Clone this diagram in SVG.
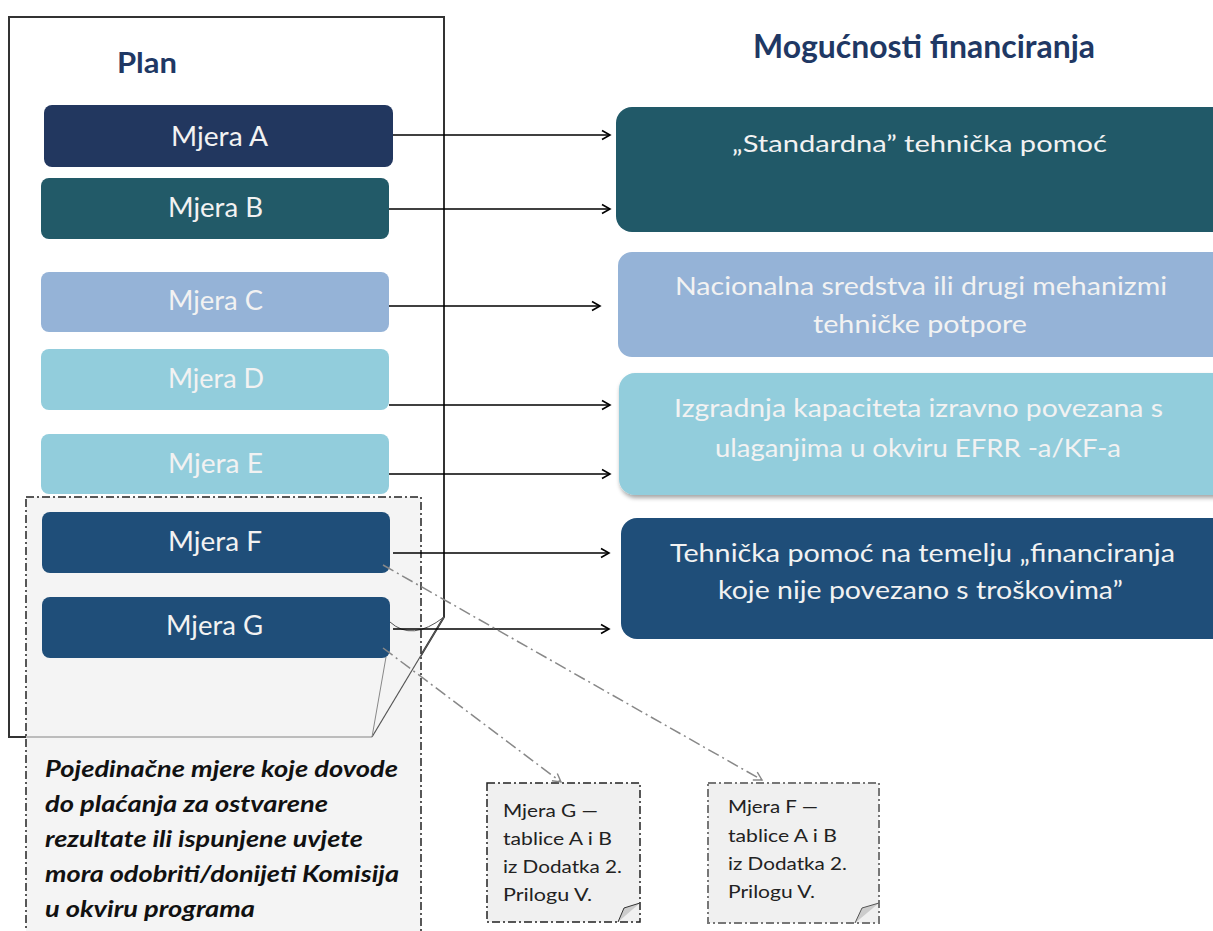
<svg xmlns="http://www.w3.org/2000/svg" width="1213" height="931" viewBox="0 0 1213 931">
<defs>
<marker id="arr" markerWidth="12" markerHeight="12" refX="10" refY="6" orient="auto" markerUnits="userSpaceOnUse">
<path d="M2,1.5 L10,6 L2,10.5" fill="none" stroke="#000" stroke-width="1.6"/>
</marker>
<marker id="arrg" markerWidth="12" markerHeight="12" refX="10" refY="6" orient="auto" markerUnits="userSpaceOnUse">
<path d="M2,1.5 L10,6 L2,10.5" fill="none" stroke="#888" stroke-width="1.4"/>
</marker>
<filter id="sh" x="-5%" y="-10%" width="110%" height="130%">
<feDropShadow dx="1" dy="3" stdDeviation="2" flood-color="#000" flood-opacity="0.35"/>
</filter>
</defs>
<style>
text{font-family:Lato,"Open Sans",sans-serif;}
.t{fill:#f2f2f2;text-anchor:middle;}
.m{font-size:26px;}
.r{font-size:25px;}
.h{font-weight:bold;fill:#1f3864;}
.n{font-size:18px;fill:#222;}
.it{font-size:23px;font-weight:bold;font-style:italic;fill:#111;}
.c{stroke:#000;stroke-width:1.5;fill:none;marker-end:url(#arr);}
.dd{stroke:#888;stroke-width:1.5;fill:none;stroke-dasharray:12,4,2,4;marker-end:url(#arrg);}
</style>
<rect width="1213" height="931" fill="#fff"/>

<g id="plan-frame">
<path d="M9,737 V17 H444 V617 L372,737 Z" fill="#fff" stroke="#333" stroke-width="2"/>
</g>

<g id="note-box">
<rect x="26" y="497" width="395" height="450" fill="#f4f4f4" stroke="#222" stroke-width="1.5" stroke-dasharray="8,3,2,3"/>
<line x1="26" y1="737" x2="372" y2="737" stroke="#aaa" stroke-width="1.5"/>
<path d="M372,737 L444,617" stroke="#555" stroke-width="1.2" fill="none"/>
<path d="M372,737 L386,657" stroke="#888" stroke-width="1" fill="none"/>
<path d="M390,622 Q412,642 444,617" stroke="#555" stroke-width="1" fill="none"/>
<text class="it" x="45" y="777" textLength="353" lengthAdjust="spacingAndGlyphs">Pojedinačne mjere koje dovode</text>
<text class="it" x="45" y="812" textLength="283" lengthAdjust="spacingAndGlyphs">do plaćanja za ostvarene</text>
<text class="it" x="45" y="847" textLength="318" lengthAdjust="spacingAndGlyphs">rezultate ili ispunjene uvjete</text>
<text class="it" x="45" y="882" textLength="354" lengthAdjust="spacingAndGlyphs">mora odobriti/donijeti Komisija</text>
<text class="it" x="45" y="917" textLength="210" lengthAdjust="spacingAndGlyphs">u okviru programa</text>
</g>

<text class="h" x="117" y="73" font-size="28" textLength="60" lengthAdjust="spacingAndGlyphs">Plan</text>
<text class="h" x="753" y="58" font-size="32" textLength="342" lengthAdjust="spacingAndGlyphs">Mogućnosti financiranja</text>

<g id="mjera-a"><rect x="44" y="105" width="349" height="62" rx="8" fill="#22375f"/><text class="t m" x="219.5" y="146" textLength="97" lengthAdjust="spacingAndGlyphs">Mjera A</text></g>
<g id="mjera-b"><rect x="41" y="178" width="348" height="61" rx="8" fill="#225a68"/><text class="t m" x="215.5" y="217" textLength="95" lengthAdjust="spacingAndGlyphs">Mjera B</text></g>
<g id="mjera-c"><rect x="41" y="272" width="348" height="60" rx="8" fill="#95b3d7"/><text class="t m" x="215.5" y="310" textLength="95" lengthAdjust="spacingAndGlyphs">Mjera C</text></g>
<g id="mjera-d"><rect x="41" y="349" width="348" height="61" rx="8" fill="#92cddc"/><text class="t m" x="216" y="388" textLength="96" lengthAdjust="spacingAndGlyphs">Mjera D</text></g>
<g id="mjera-e"><rect x="41" y="434" width="348" height="60" rx="8" fill="#92cddc"/><text class="t m" x="215.5" y="473" textLength="95" lengthAdjust="spacingAndGlyphs">Mjera E</text></g>
<g id="mjera-f"><rect x="42" y="512" width="348" height="61" rx="8" fill="#1f4e79"/><text class="t m" x="215" y="551" textLength="94" lengthAdjust="spacingAndGlyphs">Mjera F</text></g>
<g id="mjera-g"><rect x="42" y="597" width="348" height="61" rx="8" fill="#1f4e79"/><text class="t m" x="214.5" y="635" textLength="97" lengthAdjust="spacingAndGlyphs">Mjera G</text></g>

<g id="opt-standard"><rect x="616" y="107" width="620" height="125" rx="16" fill="#215968"/><text class="t" font-size="24" x="919.5" y="152" textLength="375" lengthAdjust="spacingAndGlyphs">„Standardna” tehnička pomoć</text></g>
<g id="opt-nacionalna"><rect x="618" y="252" width="620" height="105" rx="14" fill="#95b3d7"/><text class="t r" x="921" y="295" textLength="492" lengthAdjust="spacingAndGlyphs">Nacionalna sredstva ili drugi mehanizmi</text><text class="t r" x="920" y="333" textLength="214" lengthAdjust="spacingAndGlyphs">tehničke potpore</text></g>
<g id="opt-izgradnja"><rect x="619" y="373" width="620" height="122" rx="16" fill="#92cddc" filter="url(#sh)"/><text class="t r" x="918.5" y="417" textLength="489" lengthAdjust="spacingAndGlyphs">Izgradnja kapaciteta izravno povezana s</text><text class="t r" x="918" y="457" textLength="406" lengthAdjust="spacingAndGlyphs">ulaganjima u okviru EFRR -a/KF-a</text></g>
<g id="opt-tehnicka"><rect x="621" y="518" width="620" height="121" rx="16" fill="#1f4e79"/><text class="t r" x="922.5" y="562" textLength="505" lengthAdjust="spacingAndGlyphs">Tehnička pomoć na temelju „financiranja</text><text class="t r" x="920.5" y="599" textLength="405" lengthAdjust="spacingAndGlyphs">koje nije povezano s troškovima”</text></g>

<g id="note-g">
<rect x="487" y="783" width="153" height="139" fill="#f0f0f0" stroke="#222" stroke-width="1.5" stroke-dasharray="8,3,2,3"/>
<path d="M618,922 L624,908 L640,903" fill="#ccc" stroke="#333" stroke-width="1"/>
<text class="n" x="503" y="817" textLength="95" lengthAdjust="spacingAndGlyphs">Mjera G —</text>
<text class="n" x="503" y="845" textLength="109" lengthAdjust="spacingAndGlyphs">tablice A i B</text>
<text class="n" x="503" y="873" textLength="119" lengthAdjust="spacingAndGlyphs">iz Dodatka 2.</text>
<text class="n" x="503" y="901" textLength="89" lengthAdjust="spacingAndGlyphs">Prilogu V.</text>
</g>
<g id="note-f">
<rect x="708" y="783" width="171" height="140" fill="#f0f0f0" stroke="#777" stroke-width="2" stroke-dasharray="8,3,2,3"/>
<path d="M855,923 L862,908 L879,903" fill="#ccc" stroke="#555" stroke-width="1"/>
<text class="n" x="728" y="813" textLength="90" lengthAdjust="spacingAndGlyphs">Mjera F —</text>
<text class="n" x="728" y="842" textLength="109" lengthAdjust="spacingAndGlyphs">tablice A i B</text>
<text class="n" x="728" y="870" textLength="119" lengthAdjust="spacingAndGlyphs">iz Dodatka 2.</text>
<text class="n" x="728" y="898" textLength="87" lengthAdjust="spacingAndGlyphs">Prilogu V.</text>
</g>

<g id="connectors">
<line class="c" x1="393" y1="135" x2="610" y2="135"/>
<line class="c" x1="389" y1="209" x2="610" y2="209"/>
<line class="c" x1="389" y1="306" x2="600" y2="306"/>
<line class="c" x1="389" y1="405" x2="610" y2="405"/>
<line class="c" x1="389" y1="474" x2="610" y2="474"/>
<line class="c" x1="393" y1="553" x2="609" y2="553"/>
<line class="c" x1="393" y1="629" x2="609" y2="629"/>
<line class="dd" x1="383" y1="565" x2="762" y2="780"/>
<line class="dd" x1="383" y1="648" x2="561" y2="782"/>
</g>
</svg>
